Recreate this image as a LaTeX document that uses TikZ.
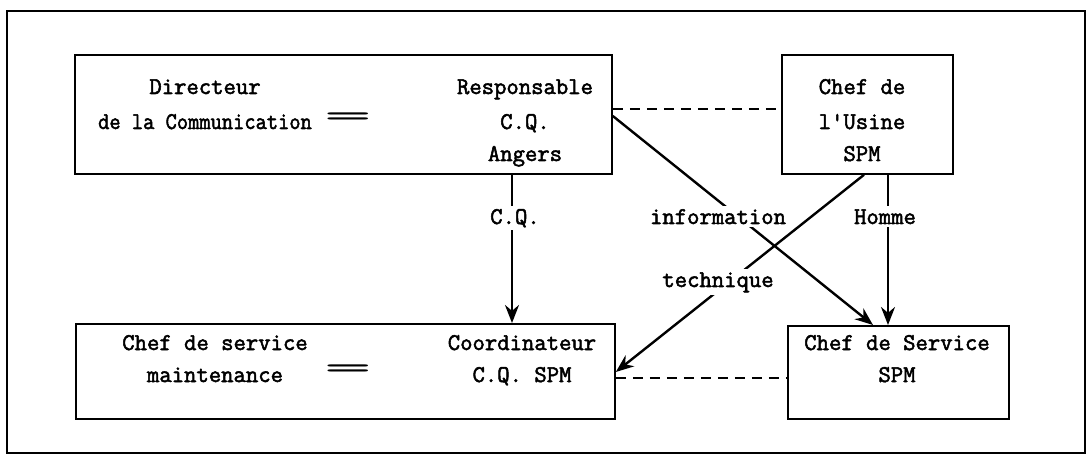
\documentclass[tikz,border=0pt]{standalone}
\usepackage{fontspec}
\usepackage{graphicx}
\setmonofont{Latin Modern Mono}[AutoFakeBold=2.2]
\usetikzlibrary{arrows.meta}
\begin{document}
\begin{tikzpicture}[x=1pt,y=-1pt,
  box/.style={draw, line width=1.8pt, inner sep=0pt, anchor=north west},
  txt/.style={font=\ttfamily\bfseries\fontsize{24}{28}\selectfont, anchor=base, inner sep=0pt},
  eqsign/.style={font=\ttfamily\fontsize{22}{26}\selectfont, anchor=center, inner sep=0pt},
  lbl/.style={txt, fill=white, inner sep=3pt},
  arr/.style={line width=2.4pt, -{Stealth[length=18pt,width=14pt]}},
  dashline/.style={line width=2pt, dash pattern=on 10pt off 7pt}]
\useasboundingbox (0,0) rectangle (1087,454);
\node[box, minimum width=1078pt, minimum height=442pt] (frame) at (6,10) {};
% boxes
\node[box, minimum width=537pt, minimum height=119pt] (b1) at (74,54) {};
\node[box, minimum width=171pt, minimum height=119pt] (b2) at (781,54) {};
\node[box, minimum width=539pt, minimum height=95pt] (b3) at (75,323) {};
\node[box, minimum width=221pt, minimum height=93pt] (b4) at (787,325) {};
% box texts
\node[txt] (t1a) at (205,94) {Directeur};
\node[txt] (t1b) at (205,129) {\scalebox{0.91}[1]{de la Communication}};
\node[eqsign] (e1) at (348,120) {\scalebox{4.2}[1.5]{=}};
\node[txt] (t1c) at (525,94) {Responsable};
\node[txt] (t1d) at (525,129) {C.Q.};
\node[txt] (t1e) at (525,161) {Angers};
\node[txt] (t2a) at (862,94) {Chef de};
\node[txt] (t2b) at (862,129) {l'Usine};
\node[txt] (t2c) at (862,161) {SPM};
\node[txt] (t3a) at (215,350) {Chef de service};
\node[txt] (t3b) at (215,382) {maintenance};
\node[eqsign] (e3) at (348,372) {\scalebox{4.2}[1.5]{=}};
\node[txt] (t3c) at (522,350) {Coordinateur};
\node[txt] (t3d) at (522,382) {C.Q. SPM};
\node[txt] (t4a) at (897,350) {Chef de Service};
\node[txt] (t4b) at (897,382) {SPM};
% connectors
\draw[dashline] (b1.east |- 0,109) -- (b2.west |- 0,109);
\draw[dashline] (b3.east |- 0,378) -- (b4.west |- 0,378);
\draw[arr] (b1.south -| 512,0) -- (b3.north -| 512,0);
\draw[arr] (b1.east |- 0,116) -- (b4.north -| 873,0);
\draw[arr] (b2.south -| 864,0) -- (b3.east |- 0,372);
\draw[arr] (b2.south -| 888,0) -- (b4.north -| 888,0);
% connector labels
\node[lbl] (lcq) at (515,224) {C.Q.};
\node[lbl] (linf) at (718,224) {information};
\node[lbl] (ltec) at (718,287) {technique};
\node[lbl] (lhom) at (885,224) {Homme};
\end{tikzpicture}
\end{document}
